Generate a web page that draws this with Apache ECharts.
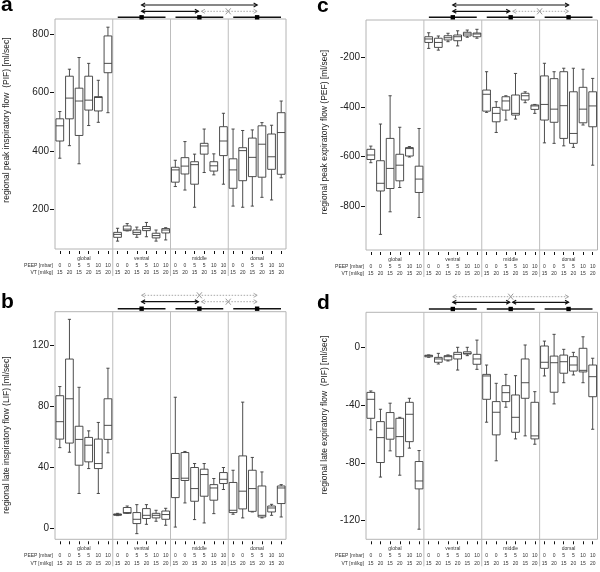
<!DOCTYPE html>
<html><head><meta charset="utf-8">
<script src="https://cdn.jsdelivr.net/npm/echarts@6/dist/echarts.min.js"></script>
<style>html,body{margin:0;padding:0;background:#fff}#chart{width:600px;height:572px}</style>
</head><body><div id="chart"></div>
<script>
// ---------- data ----------
const groups = ['global', 'ventral', 'middle', 'dorsal'];
const peepLabels = ['0', '0', '5', '5', '10', '10'];
const vtLabels = ['15', '20', '15', '20', '15', '20'];

// each box: [min, q1, median, q3, max]
const pifBoxes = [
  [375,434,486,510,535],[418,510,581,656,680],[356,453,571,615,720],[487,540,574,656,700],[498,537,583,586,642],[531,668,700,794,824],
  [91,104,114,121,135],[126,127,132,143,151],[104,114,121,129,139],[106,127,134,141,155],[91,102,110,118,129],[95,119,129,134,137],
  [278,293,335,344,368],[266,321,348,377,432],[207,286,353,363,389],[326,389,417,426,475],[318,331,349,363,390],[286,384,434,483,529],
  [211,272,335,373,475],[207,298,401,411,470],[211,312,378,444,472],[241,310,423,486,497],[232,337,380,458,488],[308,320,463,531,571]
];
const lifBoxes = [
  [53,58.6,70,87,93],[50,56,85,111,137],[23,41.5,58.4,67,92.5],[39.3,43.7,54.6,59.7,64],[23,39.3,42.6,58.6,69.5],[49.6,58.4,67.6,85,105],
  [8.5,8.7,9.2,9.6,10],[10,10,10.5,13.8,14.8],[-3.3,3.3,6.1,10.5,15.7],[2.8,6.6,8.7,13.1,15.7],[4.8,7,8.7,10,12],[2.2,6.1,9.2,11.5,13.3],
  [1,20.3,32.8,49.2,86],[16.8,31.5,33,49.8,50.5],[5.9,17.9,26.2,40,42.6],[3.7,21.2,35.4,38.9,42.6],[9.8,18.6,26.6,28.8,32.8],[25.6,29.5,32.3,36.7,40],
  [9.4,10.5,12,30.2,38.2],[7,12.9,24.5,47.6,82.8],[10.9,11.3,26.2,38.2,46.6],[7,7.6,8.7,27.9,37.1],[8.7,10.9,13.5,14.8,15.9],[7.6,16.4,26.6,27.9,28.8]
];
const pefBoxes = [
  [-625,-612,-594,-571,-558],[-914,-739,-708,-617,-469],[-823,-729,-648,-527,-355],[-725,-698,-635,-591,-482],[-602,-598,-568,-564,-560],[-846,-745,-691,-639,-487],
  [-164,-140,-126,-117,-101],[-171,-160,-140,-123,-114],[-137,-130,-121,-113,-103],[-154,-133,-117,-110,-93],[-119,-114,-106,-99,-90],[-123,-117,-106,-102,-87],
  [-422,-417,-349,-332,-258],[-503,-460,-426,-402,-379],[-453,-413,-376,-359,-355],[-449,-433,-426,-352,-265],[-383,-372,-355,-345,-339],[-426,-410,-396,-392,-390],
  [-545,-453,-390,-275,-224],[-547,-462,-409,-286,-258],[-557,-527,-395,-258,-244],[-563,-547,-507,-339,-244],[-473,-464,-409,-321,-248],[-635,-480,-396,-339,-285]
];
const lefBoxes = [
  [-57,-49,-35.8,-31,-30],[-89.8,-79.7,-62.4,-51.3,-42.7],[-71.6,-63.5,-55.9,-45,-38.5],[-88.5,-75.6,-61.7,-49,-48.3],[-69.7,-65.2,-46.2,-37.9,-35.1],[-126,-98,-92.5,-79,-71.4],
  [-6.6,-6.3,-5.6,-5.2,-5],[-11.3,-10.1,-7.8,-6.7,-3.9],[-9.2,-8.5,-6.2,-5.5,-5],[-15.5,-7.8,-4.6,-3.2,0.3],[-5.5,-4.4,-3.9,-2.8,0.3],[-15,-11.5,-7.8,-4.6,5.3],
  [-51.7,-35.8,-19.6,-18.5,-12],[-78.5,-60.5,-44.8,-37.4,-24.7],[-41.3,-37.4,-31.2,-26.3,-18.5],[-63.3,-58.7,-48.3,-32.8,-19.4],[-61.2,-35.1,-24.3,-7.8,1.9],[-67,-63.3,-61.2,-37.9,-30.5],
  [-19.6,-14.3,-10.1,1.2,4.6],[-39,-30.9,-10.4,-5.8,9.3],[-24.3,-17.7,-9.7,-5.1,-1.1],[-18.9,-16.2,-12,-6.2,-3.2],[-24.3,-16.8,-15.7,-0.4,7.6],[-56.6,-34,-20.1,-12,-7.3]
];
const pifTicks = [200, 400, 600, 800];
const lifTicks = [0, 40, 80, 120];
const pefTicks = [-800, -600, -400, -200];
const lefTicks = [-120, -80, -40, 0];
const panelLetters = ['a', 'b', 'c', 'd'];
const yTitles = [
  'regional peak inspiratory flow  (PIF) [ml/sec]',
  'regional late inspiratory flow (LIF) [ml/sec]',
  'regional peak expiratory flow (PEF) [ml/sec]',
  'regional late expiratory flow  (PIF) [ml/sec]'
];
// significance annotations: top row, second row (V=ventral, M=middle, D=dorsal); solid=true black, false gray (n.s.)
const topArrows = [true, false, true, false];
const secondArrowsMD = [false, false, false, true];

// ---------- layout ----------
const FONT = 'Liberation Sans, Arial, sans-serif';
const panels = [
  {left: 55, top: 19, width: 231, height: 230, min: 64, max: 852, ticks: pifTicks, data: pifBoxes,
   rows: [5, 11.3, 17.3], titleX: 7, titleY: 120, letterX: 1, letterY: -5},
  {left: 55, top: 311.7, width: 231, height: 227.6, min: -7, max: 142, ticks: lifTicks, data: lifBoxes,
   rows: [295.3, 301.7, 308.7], titleX: 7, titleY: 435, letterX: 1, letterY: 292},
  {left: 366, top: 20, width: 231.5, height: 230, min: -977, max: -49.5, ticks: pefTicks, data: pefBoxes,
   rows: [5, 11.3, 17.3], titleX: 325, titleY: 132, letterX: 317, letterY: -4},
  {left: 366, top: 312.3, width: 231.5, height: 227, min: -133, max: 24.6, ticks: lefTicks, data: lefBoxes,
   rows: [296.7, 302.3, 309], titleX: 325, titleY: 415, letterX: 317, letterY: 293}
];

const categories = [];
groups.forEach(g => peepLabels.forEach((p, i) => categories.push(g + ' ' + p + '/' + vtLabels[i])));

const LINE = '#3a3a3a';
function renderBox(params, api) {
  const x = api.value(0);
  const pMin = api.coord([x, api.value(1)]);
  const pQ1 = api.coord([x, api.value(2)]);
  const pMed = api.coord([x, api.value(3)]);
  const pQ3 = api.coord([x, api.value(4)]);
  const pMax = api.coord([x, api.value(5)]);
  const bw = api.size([1, 0])[0] * 0.8;
  const cw = api.size([1, 0])[0] * 0.33;
  const cx = pMed[0];
  const st = {stroke: LINE, lineWidth: 0.9, fill: null};
  return {
    type: 'group',
    children: [
      {type: 'line', shape: {x1: cx, y1: pQ3[1], x2: cx, y2: pMax[1]}, style: st},
      {type: 'line', shape: {x1: cx, y1: pQ1[1], x2: cx, y2: pMin[1]}, style: st},
      {type: 'line', shape: {x1: cx - cw / 2, y1: pMax[1], x2: cx + cw / 2, y2: pMax[1]}, style: st},
      {type: 'line', shape: {x1: cx - cw / 2, y1: pMin[1], x2: cx + cw / 2, y2: pMin[1]}, style: st},
      {type: 'rect', shape: {x: cx - bw / 2, y: pQ3[1], width: bw, height: pQ1[1] - pQ3[1]},
       style: {stroke: LINE, lineWidth: 0.9, fill: '#fff'}},
      {type: 'line', shape: {x1: cx - bw / 2, y1: pMed[1], x2: cx + bw / 2, y2: pMed[1]}, style: st}
    ]
  };
}

const chart = echarts.init(document.getElementById('chart'), null, {renderer: 'canvas'});
const option = {
  animation: false,
  backgroundColor: '#fff',
  grid: panels.map(p => ({left: p.left, top: p.top, width: p.width, height: p.height,
    show: true, borderColor: '#b4b4b4', borderWidth: 1, backgroundColor: 'transparent'})),
  xAxis: panels.map((p, k) => ({
    type: 'category', gridIndex: k, data: categories, offset: 2, position: 'bottom',
    axisLine: {show: false, onZero: false},
    axisTick: {show: true, alignWithLabel: true, length: 3, lineStyle: {color: '#111', width: 1}},
    splitLine: {show: false},
    axisLabel: {interval: 0, margin: 4, fontSize: 5, lineHeight: 7.2, color: '#333', fontFamily: FONT,
      formatter: (v, i) => '\n' + peepLabels[i % 6] + '\n' + vtLabels[i % 6]}
  })),
  yAxis: panels.map((p, k) => ({
    type: 'value', gridIndex: k, min: p.min, max: p.max, offset: 1,
    axisLine: {show: false, onZero: false},
    splitLine: {show: false},
    axisTick: {show: true, length: 4, customValues: p.ticks, lineStyle: {color: '#111', width: 1}},
    axisLabel: {margin: 5, fontSize: 10, color: '#222', fontFamily: FONT, customValues: p.ticks}
  })),
  series: panels.map((p, k) => ({
    type: 'custom', xAxisIndex: k, yAxisIndex: k,
    renderItem: renderBox,
    encode: {x: 0, y: [1, 2, 3, 4, 5]},
    data: p.data.map((b, i) => [i].concat(b)),
    clip: false
  }))
};
chart.setOption(option);

// ---------- decorations positioned through the axes ----------
const els = [];
function arrow(x1, x2, y, solid) {
  const col = solid ? '#111' : '#a8a8a8';
  const lw = solid ? 1.2 : 1;
  const st = {stroke: col, lineWidth: lw, lineDash: solid ? null : [1.5, 1.5], fill: null};
  const hs = {stroke: col, lineWidth: lw, fill: null};
  els.push({type: 'line', shape: {x1: x1, y1: y, x2: x2, y2: y}, style: st});
  els.push({type: 'polyline', shape: {points: [[x1 + 3.5, y - 2], [x1, y], [x1 + 3.5, y + 2]]}, style: hs});
  els.push({type: 'polyline', shape: {points: [[x2 - 3.5, y - 2], [x2, y], [x2 - 3.5, y + 2]]}, style: hs});
}
function xMark(x, y) {
  const s = {stroke: '#9a9a9a', lineWidth: 1};
  els.push({type: 'line', shape: {x1: x - 2.5, y1: y - 3, x2: x + 2.5, y2: y + 3}, style: s});
  els.push({type: 'line', shape: {x1: x - 2.5, y1: y + 3, x2: x + 2.5, y2: y - 3}, style: s});
}
panels.forEach((p, k) => {
  const px = i => chart.convertToPixel({xAxisIndex: k}, i);
  const bottom = p.top + p.height;
  const bounds = [p.left];
  for (let g = 1; g < 4; g++) bounds.push((px(g * 6 - 1) + px(g * 6)) / 2);
  bounds.push(p.left + p.width);
  const centers = [0, 1, 2, 3].map(g => (px(g * 6) + px(g * 6 + 5)) / 2);
  // separators
  for (let g = 1; g < 4; g++) {
    els.push({type: 'line', shape: {x1: bounds[g], y1: p.top, x2: bounds[g], y2: bottom + 27},
      style: {stroke: '#bdbdbd', lineWidth: 1}, z: 1});
  }
  // group labels
  groups.forEach((g, gi) => {
    els.push({type: 'text', x: centers[gi], y: bottom + 9.5,
      style: {text: g, fontSize: 5, fontFamily: FONT, fill: '#333', align: 'center', verticalAlign: 'middle'}});
  });
  els.push({type: 'text', x: p.left - 2, y: bottom + 16.7,
    style: {text: 'PEEP [mbar]', fontSize: 5, fontFamily: FONT, fill: '#333', align: 'right', verticalAlign: 'middle'}});
  els.push({type: 'text', x: p.left - 2, y: bottom + 23.9,
    style: {text: 'VT [ml/kg]', fontSize: 5, fontFamily: FONT, fill: '#333', align: 'right', verticalAlign: 'middle'}});
  // region bars with squares
  for (let g = 1; g < 4; g++) {
    els.push({type: 'line', shape: {x1: bounds[g] + 5, y1: p.rows[2], x2: bounds[g + 1] - 5, y2: p.rows[2]},
      style: {stroke: '#111', lineWidth: 1.5}});
    els.push({type: 'rect', shape: {x: centers[g] - 2.2, y: p.rows[2] - 2.2, width: 4.4, height: 4.4},
      style: {fill: '#000'}});
  }
  const V = centers[1], M = centers[2], D = centers[3];
  // top row: ventral <-> dorsal
  arrow(V, D, p.rows[0], topArrows[k]);
  if (!topArrows[k]) xMark(M, p.rows[0]);
  // second row
  arrow(V, M - 1, p.rows[1], true);
  arrow(M + 2, D, p.rows[1], secondArrowsMD[k]);
  if (!secondArrowsMD[k]) xMark(bounds[3], p.rows[1]);
  // y axis title
  els.push({type: 'text', x: p.titleX, y: p.titleY, rotation: Math.PI / 2,
    style: {text: yTitles[k], fontSize: 8.5, fontFamily: FONT, fill: '#222', align: 'center', verticalAlign: 'middle'}});
  // panel letter
  els.push({type: 'text', x: p.letterX, y: p.letterY,
    style: {text: panelLetters[k], fontSize: 21, fontWeight: 'bold', fontFamily: FONT, fill: '#000', align: 'left', verticalAlign: 'top'}});
});
chart.setOption({graphic: {elements: els}});
</script>
</body></html>
